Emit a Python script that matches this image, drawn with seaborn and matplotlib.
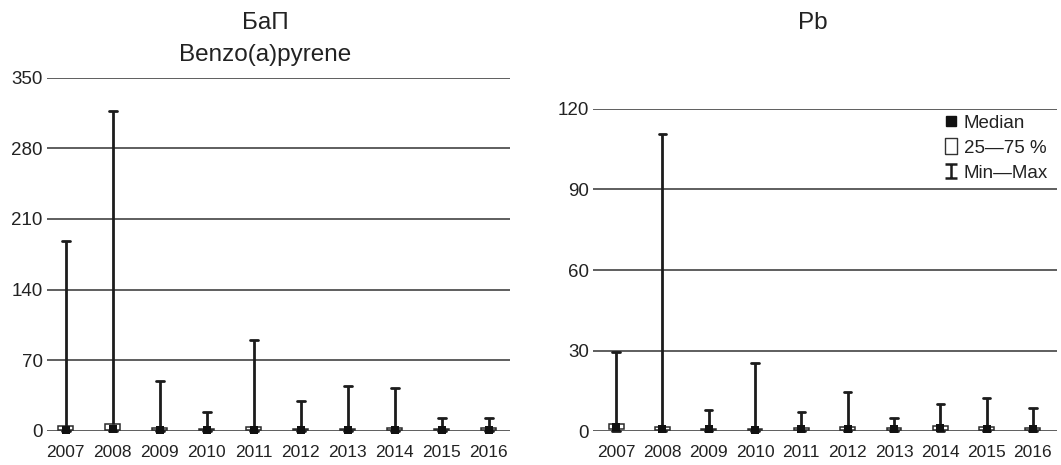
# IMPORT MODULES
import matplotlib
matplotlib.use("Agg")
import matplotlib.pyplot as plt
import seaborn as sns
import pandas as pd
from matplotlib.lines import Line2D
from matplotlib.path import Path

# DATA
years = ["2007", "2008", "2009", "2010", "2011", "2012", "2013", "2014", "2015", "2016"]

# Benzo(a)pyrene
bap_min = [0, 0, 0, 0, 0, 0, 0, 0, 0, 0]
bap_q1 = [0.3, 0.3, 0.3, 0.3, 0.3, 0.3, 0.3, 0.3, 0.3, 0.3]
bap_median = [1, 1.2, 1, 1, 1, 1, 1, 1, 1, 1]
bap_q3 = [5, 6.5, 2.2, 2, 4, 2, 2, 2.5, 2, 2.5]
bap_max = [188, 317, 49, 19, 90, 29, 44, 42, 12.5, 12.5]
bap_ticks = [0, 70, 140, 210, 280, 350]

# Pb
pb_min = [0, 0, 0, 0, 0, 0, 0, 0, 0, 0]
pb_q1 = [0.6, 0.2, 0.2, 0.2, 0.2, 0.2, 0.2, 0.2, 0.2, 0.2]
pb_median = [1.5, 0.8, 0.6, 0.5, 0.8, 0.9, 0.7, 1.0, 0.8, 0.8]
pb_q3 = [2.5, 1.5, 0.9, 0.6, 1.3, 1.4, 1.0, 1.8, 1.4, 1.2]
pb_max = [29.4, 110.8, 7.8, 25.3, 7, 14.7, 5, 10, 12.4, 8.5]
pb_ticks = [0, 30, 60, 90, 120]


def long_frame(mins, q1s, meds, q3s, maxs):
    # five values per year -> quartiles of these points equal the summary stats
    rows = []
    for i, y in enumerate(years):
        for v in (mins[i], q1s[i], meds[i], q3s[i], maxs[i]):
            rows.append({"year": y, "value": v})
    return pd.DataFrame(rows)


sns.set_style("white")
plt.rcParams["font.family"] = ["Liberation Sans", "DejaVu Sans"]

fig = plt.figure(figsize=(10.61, 4.65), dpi=100)
ax1 = fig.add_axes([0.0443, 0.0738, 0.4364, 0.759])
ax2 = fig.add_axes([0.5589, 0.0731, 0.4373, 0.6925])

panels = [
    (ax1, long_frame(bap_min, bap_q1, bap_median, bap_q3, bap_max), bap_median, bap_ticks, (-0.4, 9.45)),
    (ax2, long_frame(pb_min, pb_q1, pb_median, pb_q3, pb_max), pb_median, pb_ticks, (-0.5, 9.52)),
]

for ax, df, meds, ticks, xlim in panels:
    sns.boxplot(data=df, x="year", y="value", whis=(0, 100), width=0.32,
                color="white", linecolor="#2b2b2b", linewidth=1.1, showfliers=False,
                medianprops=dict(visible=False),
                whiskerprops=dict(linewidth=2.0, color="#1c1c1c"),
                capprops=dict(linewidth=2.0, color="#1c1c1c"),
                ax=ax, zorder=3)
    sns.stripplot(x=years, y=meds, marker="s", size=6.3, color="#111111",
                  jitter=False, ax=ax, zorder=5)
    ax.set_xlim(*xlim)
    ax.set_ylim(ticks[0], ticks[-1])
    ax.set_yticks(ticks)
    ax.set_xlabel("")
    ax.set_ylabel("")
    ax.set_axisbelow(True)
    ax.yaxis.grid(True, color="#333333", linewidth=1.1)
    ax.xaxis.grid(False)
    sns.despine(ax=ax, left=True, bottom=True)
    ax.tick_params(axis="y", length=0, pad=3, labelsize=13.5, colors="#222222")
    ax.tick_params(axis="x", length=0, pad=10, labelsize=12.5, colors="#222222")
    for art in ax.lines + ax.collections + ax.patches:
        art.set_clip_on(False)

# TITLES
fig.text(265 / 1061, 1 - 23 / 465, "БаП", ha="center", va="center", fontsize=17.5, color="#222222")
fig.text(265 / 1061, 1 - 55 / 465, "Benzo(a)pyrene", ha="center", va="center", fontsize=17.5, color="#222222")
fig.text(813 / 1061, 1 - 23 / 465, "Pb", ha="center", va="center", fontsize=17.5, color="#222222")

# LEGEND
box_marker = Path([(-0.37, -0.5), (0.37, -0.5), (0.37, 0.5), (-0.37, 0.5), (-0.37, -0.5)])
ibeam = Path([(-0.43, 0.5), (0.43, 0.5), (0, 0.5), (0, -0.5), (-0.43, -0.5), (0.43, -0.5)],
             [Path.MOVETO, Path.LINETO, Path.MOVETO, Path.LINETO, Path.MOVETO, Path.LINETO])
handles = [
    Line2D([], [], marker="s", ls="none", color="#111111", markersize=6.5),
    Line2D([], [], marker=box_marker, ls="none", markerfacecolor="white",
           markeredgecolor="#333333", markeredgewidth=1.0, markersize=11),
    Line2D([], [], marker=ibeam, ls="none", markerfacecolor="none",
           markeredgecolor="#1c1c1c", markeredgewidth=1.8, markersize=10),
]
ax2.legend(handles, ["Median", "25—75 %", "Min—Max"], loc="upper right",
           bbox_to_anchor=(0.981, 0.982), frameon=False, fontsize=13.5,
           handlelength=0.8, handletextpad=0.3, labelspacing=0.42,
           borderaxespad=0, borderpad=0, labelcolor="#222222")

plt.savefig("out.png", dpi=100)
